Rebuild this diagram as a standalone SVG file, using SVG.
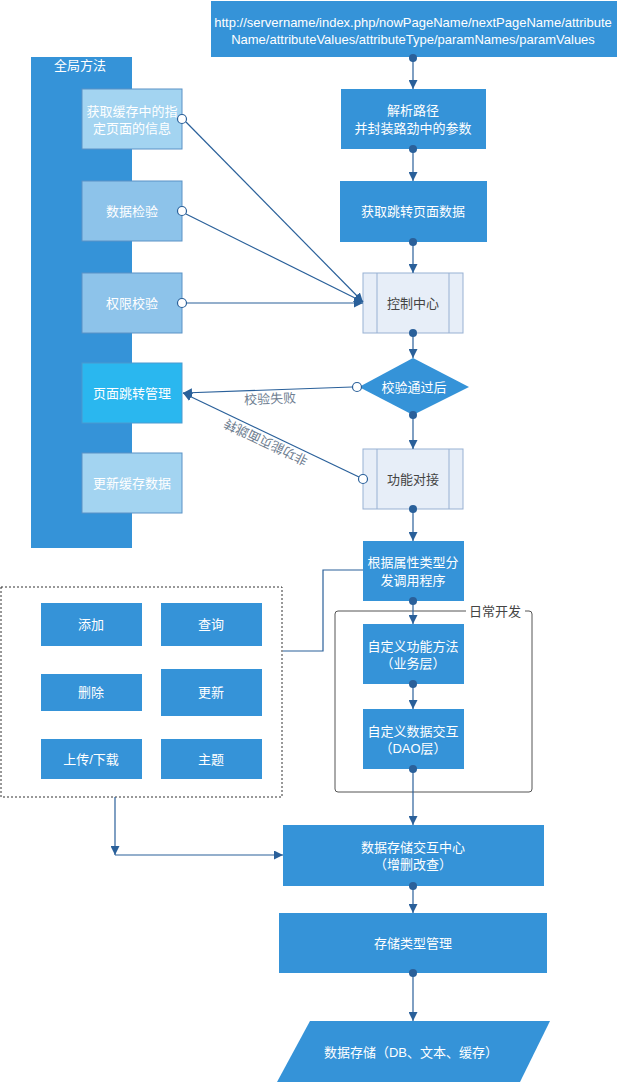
<svg xmlns="http://www.w3.org/2000/svg" width="617" height="1083" viewBox="0 0 617 1083">
<defs>
<marker id="ah" viewBox="0 0 10 10" refX="10" refY="5" markerWidth="9" markerHeight="9" markerUnits="userSpaceOnUse" orient="auto">
<path d="M0,0 L10,5 L0,10 Z" fill="#2A609A"/>
</marker>
<style>
.t{font-family:"Liberation Sans","Noto Sans CJK SC",sans-serif;font-size:13px;fill:#fff;text-anchor:middle;dominant-baseline:central}
.u{font-family:"Liberation Sans",sans-serif;font-size:13px;fill:#fff;text-anchor:middle;dominant-baseline:central}
.d{font-family:"Liberation Sans","Noto Sans CJK SC",sans-serif;font-size:13px;fill:#444;text-anchor:middle;dominant-baseline:central}
.g{font-family:"Liberation Sans","Noto Sans CJK SC",sans-serif;font-size:13px;fill:#6E7D90;text-anchor:middle;dominant-baseline:central}
.b{fill:#3593D8}
.s{stroke:#5A92C6;stroke-width:1}
.l1{fill:#A3D4F1}
.l2{fill:#8DC3EA}
.p{fill:#E7EEF8;stroke:#98B1D3;stroke-width:1}
.c{fill:none;stroke:#2A609A;stroke-width:1.2}
.ca{fill:none;stroke:#2A609A;stroke-width:1.2;marker-end:url(#ah)}
.dot{fill:#2A609A}
.oc{fill:#fff;stroke:#2A609A;stroke-width:1.2}
</style>
</defs>

<g id="url">
<rect class="b" x="211" y="1" width="406" height="56"/>
<text class="u" x="413" y="22">http://servername/index.php/nowPageName/nextPageName/attribute</text>
<text class="u" x="413" y="39">Name/attributeValues/attributeType/paramNames/paramValues</text>
</g>

<g id="global">
<rect class="b" x="31" y="57" width="101" height="491"/>
<text class="t" x="80" y="65">全局方法</text>
</g>
<g id="n-cache"><rect class="l1 s" x="82" y="89" width="100" height="60"/><text class="t" x="132" y="111">获取缓存中的指</text><text class="t" x="132" y="128">定页面的信息</text></g>
<g id="n-check"><rect class="l2 s" x="82" y="181" width="100" height="60"/><text class="t" x="132" y="211">数据检验</text></g>
<g id="n-auth"><rect class="l2 s" x="82" y="273" width="100" height="60"/><text class="t" x="132" y="303">权限校验</text></g>
<g id="n-jump"><rect x="82" y="363" width="100" height="60" fill="#2AB7EF" stroke="#4A9AD0"/><text class="t" x="132" y="393">页面跳转管理</text></g>
<g id="n-update"><rect class="l1 s" x="82" y="453" width="100" height="60"/><text class="t" x="132" y="483">更新缓存数据</text></g>

<g id="n-parse"><rect class="b" x="341" y="89" width="145" height="60"/><text class="t" x="413" y="110">解析路径</text><text class="t" x="413" y="128">并封装路劲中的参数</text></g>
<g id="n-get"><rect class="b" x="340" y="181" width="147" height="61"/><text class="t" x="413" y="211">获取跳转页面数据</text></g>
<g id="n-ctrl"><rect class="p" x="363" y="273" width="100" height="60"/><line x1="377" y1="273" x2="377" y2="333" stroke="#98B1D3"/><line x1="449" y1="273" x2="449" y2="333" stroke="#98B1D3"/><text class="d" x="413" y="303">控制中心</text></g>
<g id="n-dia"><polygon class="b" points="413,358 469,387 413,415 359,387"/><text class="t" x="414" y="387">校验通过后</text></g>
<g id="n-func"><rect class="p" x="363" y="449" width="100" height="60"/><line x1="377" y1="449" x2="377" y2="509" stroke="#98B1D3"/><line x1="449" y1="449" x2="449" y2="509" stroke="#98B1D3"/><text class="d" x="413" y="479">功能对接</text></g>
<g id="n-dispatch"><rect class="b" x="363" y="541" width="101" height="60"/><text class="t" x="413" y="562">根据属性类型分</text><text class="t" x="413" y="580">发调用程序</text></g>

<g id="g-daily">
<path d="M466,611 H338 Q335,611 335,614 V789 Q335,792 338,792 H529 Q532,792 532,789 V614 Q532,611 529,611 H525" fill="none" stroke="#555" stroke-width="1"/>
<text class="d" x="495" y="611">日常开发</text>
</g>
<g id="n-biz"><rect class="b" x="363" y="624" width="101" height="60"/><text class="t" x="413" y="646">自定义功能方法</text><text class="t" x="413" y="663">（业务层）</text></g>
<g id="n-dao"><rect class="b" x="363" y="709" width="101" height="60"/><text class="t" x="413" y="731">自定义数据交互</text><text class="t" x="413" y="748">（DAO层）</text></g>

<g id="g-ops">
<rect x="1" y="587" width="281" height="210" fill="none" stroke="#333" stroke-width="1" stroke-dasharray="2,2"/>
</g>
<g id="n-add"><rect class="b" x="41" y="603" width="101" height="43"/><text class="t" x="91" y="624">添加</text></g>
<g id="n-query"><rect class="b" x="161" y="603" width="101" height="43"/><text class="t" x="211" y="624">查询</text></g>
<g id="n-del"><rect class="b" x="41" y="674" width="101" height="37"/><text class="t" x="91" y="692">删除</text></g>
<g id="n-upd"><rect class="b" x="161" y="669" width="101" height="47"/><text class="t" x="211" y="692">更新</text></g>
<g id="n-upload"><rect class="b" x="41" y="739" width="101" height="40"/><text class="t" x="91" y="759">上传/下载</text></g>
<g id="n-theme"><rect class="b" x="161" y="739" width="101" height="40"/><text class="t" x="211" y="759">主题</text></g>

<g id="n-center"><rect class="b" x="283" y="825" width="261" height="61"/><text class="t" x="413" y="847">数据存储交互中心</text><text class="t" x="413" y="864">（增删改查）</text></g>
<g id="n-type"><rect class="b" x="279" y="913" width="268" height="60"/><text class="t" x="413" y="943">存储类型管理</text></g>
<g id="n-store"><polygon class="b" points="310,1021 550,1021 520,1082 277,1082"/><text class="t" x="411" y="1052">数据存储（DB、文本、缓存）</text></g>

<g id="connectors">
<line class="ca" x1="413" y1="58" x2="413" y2="89"/>
<circle class="dot" cx="413" cy="58" r="4"/>
<line class="ca" x1="413" y1="149" x2="413" y2="181"/>
<circle class="dot" cx="413" cy="149" r="4"/>
<line class="ca" x1="413" y1="242" x2="413" y2="273"/>
<circle class="dot" cx="413" cy="242" r="4"/>
<line class="ca" x1="413" y1="333" x2="413" y2="358"/>
<circle class="dot" cx="413" cy="333" r="4"/>
<line class="ca" x1="413" y1="415" x2="413" y2="449"/>
<circle class="dot" cx="413" cy="415" r="4"/>
<line class="ca" x1="413" y1="509" x2="413" y2="541"/>
<circle class="dot" cx="413" cy="509" r="4"/>
<line class="ca" x1="413" y1="601" x2="413" y2="624"/>
<circle class="dot" cx="413" cy="601" r="4"/>
<line class="ca" x1="413" y1="684" x2="413" y2="709"/>
<circle class="dot" cx="413" cy="684" r="4"/>
<line class="ca" x1="413" y1="769" x2="413" y2="825"/>
<circle class="dot" cx="413" cy="769" r="4"/>
<line class="ca" x1="413" y1="886" x2="413" y2="913"/>
<circle class="dot" cx="413" cy="886" r="4"/>
<line class="ca" x1="413" y1="973" x2="413" y2="1021"/>
<circle class="dot" cx="413" cy="973" r="4"/>

<line class="ca" x1="186" y1="122" x2="363" y2="302"/>
<circle class="oc" cx="182" cy="119" r="4.5"/>
<line class="ca" x1="186" y1="214" x2="363" y2="302"/>
<circle class="oc" cx="182" cy="211" r="4.5"/>
<line class="ca" x1="187" y1="303" x2="363" y2="303"/>
<circle class="oc" cx="182" cy="303" r="4.5"/>

<line class="ca" x1="352" y1="387" x2="183" y2="393"/>
<circle class="oc" cx="357" cy="387" r="4.5"/>
<text class="g" x="270" y="399" transform="rotate(-2 270 399)">校验失败</text>
<line class="ca" x1="359" y1="477" x2="183" y2="393"/>
<circle class="oc" cx="363" cy="479" r="4.5"/>
<text class="g" x="266" y="442" transform="rotate(-154.5 266 442)">非功能页面跳转</text>

<polyline class="c" points="363,570 323,570 323,651 283,651"/>
<line class="ca" x1="115" y1="797" x2="115" y2="855"/>
<line class="ca" x1="115" y1="855" x2="283" y2="855"/>
</g>
</svg>
